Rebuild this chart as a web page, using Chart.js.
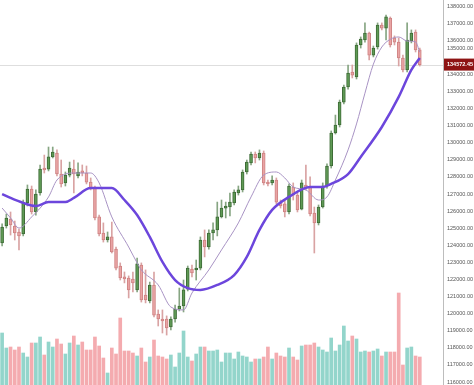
<!DOCTYPE html>
<html>
<head>
<meta charset="utf-8">
<script src="https://cdn.jsdelivr.net/npm/chart.js@4.4.1/dist/chart.umd.min.js"></script>
<style>
html, body { margin: 0; padding: 0; background: #fff; }
#wrap { width: 474px; height: 385px; }
</style>
</head>
<body>
<div id="wrap"><canvas id="chart" width="474" height="385"></canvas></div>
<script>
// candles
const opens = [124140,125130,125540,125130,124780,124660,126480,127290,125950,127060,
  128520,128460,129170,129400,128170,127650,128110,128460,128060,128350,
  128230,127700,127350,125660,124720,124310,124490,123780,122790,122150,
  122090,122030,121390,122850,121090,120740,121680,119980,119690,119690,
  119220,119690,120270,120450,121440,122610,122560,122670,124310,123900,
  124720,124900,125660,126180,126240,126480,127060,127240,128290,128820,
  129340,129110,129400,127700,127650,127820,126530,126420,125950,127410,
  126940,126120,127530,127410,125890,125310,126240,127470,128640,130570,
  131040,132380,133260,134140,133850,135720,136010,136420,135130,135600,
  136890,136710,137300,136130,135890,134960,134260,135950,136480,135430];
const highs = [125250,125830,125950,125420,124950,126650,127530,127470,127240,128700,
  129280,129750,129750,129580,128990,128290,128870,128990,128820,128700,
  128640,127940,127470,125770,125310,124780,125360,123900,122970,122440,
  122210,122440,123260,122970,122560,121850,122440,120220,120220,119870,
  119810,120510,121500,121970,122790,122850,123140,124490,124900,124900,
  125310,126530,126650,126530,127060,127240,127470,128410,128990,129460,
  129460,129580,129520,127820,128060,127940,126650,126650,127590,127650,
  127060,127820,128700,128000,126240,126360,127650,128760,130690,131620,
  132500,133380,134550,134550,135840,136190,137010,136480,135660,137010,
  137010,137470,137360,136250,136130,135130,137010,136600,136600,135540];
const lows = [123960,125010,124600,124310,123730,124550,126300,125830,125770,126940,
  128230,128350,129110,128060,127410,127470,128000,127060,127940,128060,
  127590,127240,125480,124550,124190,124190,123550,122560,121970,121800,
  120920,121270,121270,120680,120630,120630,119810,119280,118870,118750,
  119050,119510,120160,120100,121330,122150,121970,122560,123320,123780,
  124310,124550,125600,125600,125720,126360,126940,127120,128170,128700,
  128820,128990,127530,127470,127530,126420,126180,125660,125830,126650,
  125950,126070,127240,125720,123550,125190,126180,127350,128520,130510,
  130920,132270,133140,133790,133730,135540,135890,134840,135020,135480,
  136600,136010,135600,135720,134490,134140,134140,135840,135310,134490];
const closes = [125070,125600,125190,124720,124550,126480,127290,125950,127000,128460,
  128410,129170,129460,128170,127590,128110,128520,128170,128290,128230,
  127700,127350,125600,124660,124310,124490,123610,122670,122090,122030,
  121390,121800,122910,120800,120800,121680,119920,119690,119570,119160,
  119690,120270,120450,121390,122670,122380,122670,124310,123900,124720,
  124900,125660,126180,126300,126530,127120,127240,128290,128870,129340,
  129110,129400,127650,127590,127820,126530,126300,125950,127470,126940,
  126070,127650,127350,125830,125310,126240,127470,128640,130570,131040,
  132380,133260,134080,133960,135720,136070,136420,135130,135540,136890,
  136710,137360,135720,135890,134960,134260,136010,136420,135430,134572.45];
const volumes = [5200,3700,3800,3500,3800,3200,2800,4200,4200,4800,
  3000,4300,3800,4600,4100,3100,4200,4900,4000,4300,
  3500,3500,4800,3900,2700,1200,3700,3100,6700,3400,
  3400,3200,2900,3700,2300,2800,4500,2900,2800,2600,
  3000,1800,3200,5400,2800,2400,3100,3800,3800,3400,
  3400,3500,2300,3200,3200,2600,3300,2900,2800,2300,
  2600,2600,2800,3800,2600,3200,2900,2800,3700,2800,
  2500,3900,4000,4000,4200,3800,3500,3300,4700,3400,
  4000,5900,4400,4900,4600,3300,3400,3300,3400,3600,
  2900,3300,3300,3300,9200,2000,3700,3800,2900,2800];

// moving averages, read at some candles
const maFastAt = [0,2,4,7,11,13,17,21,23,26,30,32,33,37,40,43,45,49,52,56,59,62,65,67,69,72,75,77,79,82,84,86,88,90,92,94,96,98,99];
const maFast = [126180,125600,125010,125660,126830,127820,128230,128230,127650,125660,123900,122970,122560,121680,120390,120220,121210,122560,123730,125310,126830,128110,128290,127940,127410,127240,126650,126830,127820,129580,131100,132900,134600,135600,136050,136190,135950,135900,135300];
const maSlowAt = [0,2,5,8,11,15,17,21,26,29,32,35,38,41,44,47,51,55,58,61,64,68,73,76,78,82,85,90,94,97,99];
const maSlow = [127000,126770,126480,126300,126530,126530,126770,127350,127350,126650,125770,124490,123030,121970,121500,121390,121680,122260,123320,124900,126070,126830,127410,127410,127590,128170,129170,130920,132680,134260,134960];

const priceTicks = [116000,117000,118000,119000,120000,121000,122000,123000,124000,125000,126000,127000,
  128000,129000,130000,131000,132000,133000,134000,135000,136000,137000,138000];
const lastPrice = 134572.45;
const emptySlots = 5;

const labels = opens.map((_, i) => String(i + 1)).concat(Array(emptySlots).fill(''));
const isUp = opens.map((o, i) => closes[i] >= o);

function spread(at, vals) {
  const out = labels.map(() => null);
  at.forEach((k, j) => { out[k] = vals[j]; });
  return out;
}

const tickFont = { family: '"Liberation Sans", Arial, sans-serif', size: 5.5 };
const hidden = (v) => Math.abs(v - lastPrice) < 500;

const priceLine = {
  id: 'priceLine',
  beforeDatasetsDraw(chart) {
    const { ctx, chartArea } = chart;
    const y = Math.round(chart.scales.y.getPixelForValue(lastPrice)) + 0.5;
    ctx.save();
    ctx.strokeStyle = '#dedede';
    ctx.lineWidth = 1;
    ctx.beginPath();
    ctx.moveTo(chartArea.left, y);
    ctx.lineTo(chartArea.right, y);
    ctx.stroke();
    ctx.restore();
  },
  afterDraw(chart) {
    const { ctx, chartArea } = chart;
    const sy = chart.scales.y;
    const y = sy.getPixelForValue(lastPrice);
    const x0 = chartArea.right + 1;
    ctx.save();
    ctx.fillStyle = '#8e1414';
    ctx.fillRect(x0, y - 6, chart.width - x0, 12);
    ctx.font = 'bold 5.5px "Liberation Sans", Arial, sans-serif';
    ctx.fillStyle = '#fff';
    ctx.textBaseline = 'middle';
    ctx.fillText(lastPrice.toFixed(2), x0 + 3, y);
    // tick hidden under the label goes just above it
    const near = priceTicks.find(hidden);
    if (near !== undefined) {
      ctx.font = '5.5px "Liberation Sans", Arial, sans-serif';
      ctx.fillStyle = '#555';
      ctx.fillText(near.toFixed(2), x0 + 3, y - 16);
    }
    ctx.restore();
  }
};

new Chart(document.getElementById('chart'), {
  data: {
    labels: labels,
    datasets: [
      {
        type: 'line', data: spread(maSlowAt, maSlow), yAxisID: 'y',
        borderColor: '#6c46dc', borderWidth: 2.5, pointRadius: 0,
        spanGaps: true, cubicInterpolationMode: 'monotone'
      },
      {
        type: 'line', data: spread(maFastAt, maFast), yAxisID: 'y',
        borderColor: '#a893c4', borderWidth: 1, pointRadius: 0,
        spanGaps: true, cubicInterpolationMode: 'monotone'
      },
      {
        type: 'bar', data: opens.map((o, i) => [o, closes[i]]), yAxisID: 'y',
        grouped: false, barThickness: 3, borderWidth: 1, borderSkipped: false,
        backgroundColor: isUp.map(u => u ? '#5f9a55' : '#e9a4a4'),
        borderColor: isUp.map(u => u ? '#3d6b36' : '#cf8383')
      },
      {
        type: 'bar', data: lows.map((l, i) => [l, highs[i]]), yAxisID: 'y',
        grouped: false, barThickness: 1,
        backgroundColor: isUp.map(u => u ? '#86a582' : '#d9a3a3')
      },
      {
        type: 'bar', data: volumes, yAxisID: 'vol',
        grouped: false, barThickness: 3,
        backgroundColor: isUp.map(u => u ? '#93d5cb' : '#f4abaf')
      }
    ]
  },
  options: {
    responsive: false,
    animation: false,
    devicePixelRatio: 1,
    layout: { padding: 0 },
    plugins: { legend: { display: false }, tooltip: { enabled: false } },
    scales: {
      x: { display: false, offset: true },
      y: {
        position: 'right',
        min: 115828, max: 138351,
        grid: { display: false, drawTicks: false },
        border: { display: true, color: '#bdbdbd' },
        ticks: {
          font: tickFont, color: '#555', padding: 4, autoSkip: false,
          callback: (v) => hidden(v) ? '' : Number(v).toFixed(2)
        },
        afterBuildTicks: (s) => { s.ticks = priceTicks.map(v => ({ value: v })); },
        afterFit: (s) => { s.width = 31; s.paddingTop = 0; s.paddingBottom = 0; }
      },
      vol: { display: false, min: 0, max: 38500 }
    }
  },
  plugins: [priceLine]
});
</script>
</body>
</html>
